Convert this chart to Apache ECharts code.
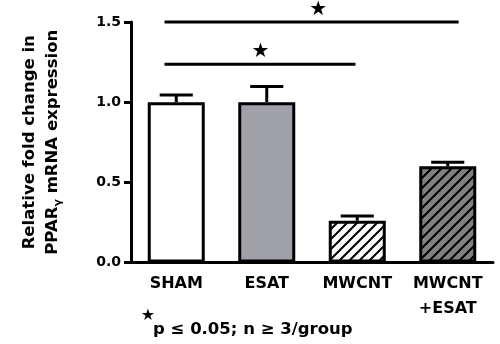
<!DOCTYPE html>
<html>
<head>
<meta charset="utf-8">
<script src="https://cdn.jsdelivr.net/npm/echarts@6/dist/echarts.min.js"></script>
<style>
  html, body { margin: 0; background: #fff; }
  #chart { width: 500px; height: 344px; }
</style>
</head>
<body>
<div id="chart"></div>
<script>
const groups = ["SHAM", "ESAT", "MWCNT", "MWCNT\n+ESAT"];
const means = [1.0, 1.0, 0.26, 0.60];
const errors = [0.045, 0.097, 0.03, 0.025];
const yTicks = [0, 0.5, 1.0, 1.5];
// significance bars: [from, to, y] in category units
const sigBars = [[-0.13, 3.12, 1.5], [-0.13, 1.98, 1.236]];
const sigStars = [[1.57, 1.575], [0.93, 1.315]];

const FONT = "DejaVu Sans";

// diagonal hatch fill
const hatch = (bg) => {
  const s = 10;
  const c = document.createElement("canvas");
  c.width = c.height = s;
  const g = c.getContext("2d");
  g.fillStyle = bg;
  g.fillRect(0, 0, s, s);
  g.strokeStyle = "#000";
  g.lineWidth = 2;
  g.beginPath();
  for (const k of [0, s, 2 * s]) {
    g.moveTo(k - s - 1, s + 1);
    g.lineTo(k + 1, -1);
    g.moveTo(-1, k + 1);
    g.lineTo(k + 1, -1);
  }
  g.stroke();
  return { image: c, repeat: "repeat" };
};

const fills = ["#ffffff", "#a0a0a8", hatch("#ffffff"), hatch("#808080")];

const chart = echarts.init(document.getElementById("chart"));

chart.setOption({
  animation: false,
  grid: { left: 131, right: 7, top: 22, bottom: 81.5, outerBoundsMode: "none" },
  xAxis: [
    {
      type: "category",
      data: groups,
      axisLine: { lineStyle: { color: "#000", width: 3 } },
      axisTick: { show: false },
      axisLabel: { interval: 0, margin: 9, color: "#000", fontFamily: FONT, fontWeight: "bold", fontSize: 16, lineHeight: 25 }
    },
    { type: "value", min: -0.5, max: 3.5, show: false }
  ],
  yAxis: {
    type: "value",
    min: yTicks[0],
    max: yTicks[yTicks.length - 1],
    interval: 0.5,
    name: "{a|Relative fold change in}\n{a|PPAR}{g|γ}{a| mRNA expression}",
    nameLocation: "middle",
    nameGap: 67,
    nameTextStyle: {
      rich: {
        a: { fontFamily: FONT, fontWeight: "bold", fontSize: 16.5, color: "#000", lineHeight: 23 },
        g: { fontFamily: FONT, fontWeight: "bold", fontSize: 11, color: "#000", lineHeight: 14, verticalAlign: "bottom" }
      }
    },
    axisLine: { show: true, onZero: false, lineStyle: { color: "#000", width: 3 } },
    axisTick: { show: true, length: 7, lineStyle: { color: "#000", width: 3 } },
    splitLine: { show: false },
    axisLabel: { margin: 10, color: "#000", fontFamily: FONT, fontWeight: "bold", fontSize: 14, formatter: (v) => v.toFixed(1) }
  },
  series: [
    {
      type: "bar",
      barWidth: 57,
      data: means.map((v, i) => ({ value: v, itemStyle: { color: fills[i] } })),
      itemStyle: { borderColor: "#000", borderWidth: 3 },
      z: 2
    },
    {
      type: "custom",
      z: 3,
      data: means.map((v, i) => [i, v, errors[i]]),
      renderItem: (params, api) => {
        const p0 = api.coord([api.value(0), api.value(1)]);
        const p1 = api.coord([api.value(0), api.value(1) + api.value(2)]);
        const half = api.size([1, 0])[0] * 0.183;
        const st = { stroke: "#000", lineWidth: 3 };
        return {
          type: "group",
          children: [
            { type: "line", shape: { x1: p0[0], y1: p0[1], x2: p1[0], y2: p1[1] }, style: st },
            { type: "line", shape: { x1: p1[0] - half, y1: p1[1], x2: p1[0] + half, y2: p1[1] }, style: st }
          ]
        };
      }
    },
    {
      type: "custom",
      xAxisIndex: 1,
      z: 3,
      clip: false,
      data: sigBars,
      renderItem: (params, api) => {
        const a = api.coord([api.value(0), api.value(2)]);
        const b = api.coord([api.value(1), api.value(2)]);
        return { type: "line", shape: { x1: a[0], y1: a[1], x2: b[0], y2: b[1] }, style: { stroke: "#000", lineWidth: 3 } };
      }
    },
    {
      type: "custom",
      xAxisIndex: 1,
      z: 3,
      clip: false,
      data: sigStars,
      renderItem: (params, api) => {
        const p = api.coord([api.value(0), api.value(1)]);
        return {
          type: "text",
          x: p[0],
          y: p[1],
          style: { text: "★", fill: "#000", fontFamily: FONT, fontSize: 20, align: "center", verticalAlign: "middle" }
        };
      }
    }
  ],
  graphic: [
    {
      type: "text",
      x: 148,
      y: 316,
      style: { text: "★", fill: "#000", fontFamily: FONT, fontSize: 16, align: "center", verticalAlign: "middle" }
    },
    {
      type: "text",
      x: 153,
      y: 330,
      style: { text: "p ≤ 0.05; n ≥ 3/group", fill: "#000", fontFamily: FONT, fontWeight: "bold", fontSize: 16.5, align: "left", verticalAlign: "middle" }
    }
  ]
});

window.addEventListener("resize", () => chart.resize());
</script>
</body>
</html>
